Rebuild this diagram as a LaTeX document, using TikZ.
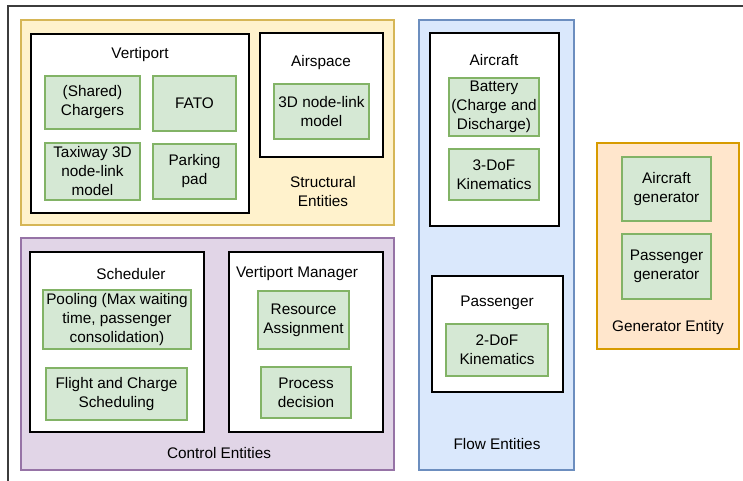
\documentclass[tikz,border=0pt]{standalone}
\usepackage{fontspec}
\setmainfont{Liberation Sans}
\usetikzlibrary{fit}

\definecolor{structfill}{RGB}{255,242,204}
\definecolor{structdraw}{RGB}{214,182,86}
\definecolor{ctrlfill}{RGB}{225,213,231}
\definecolor{ctrldraw}{RGB}{150,115,166}
\definecolor{flowfill}{RGB}{218,232,252}
\definecolor{flowdraw}{RGB}{108,142,191}
\definecolor{genfill}{RGB}{255,230,204}
\definecolor{gendraw}{RGB}{215,155,0}
\definecolor{partfill}{RGB}{213,232,212}
\definecolor{partdraw}{RGB}{130,179,102}
\definecolor{framecol}{RGB}{60,60,60}

\newcommand{\diafont}{\fontsize{11.5}{14.25}\selectfont}

\tikzset{every picture/.style={line width=0.75pt}}
\tikzset{
	group/.style={inner sep=0pt, line width=0.8pt},
	entity/.style={draw=black, fill=white, inner sep=0pt, line width=1.1pt},
	part/.style={draw=partdraw, fill=partfill, inner sep=0pt, line width=1.1pt, align=center, font=\diafont},
	title/.style={inner sep=0pt, align=center, font=\diafont}
}

\begin{document}
\begin{tikzpicture}[x=0.75pt,y=0.75pt,yscale=-1,xscale=1]
	\useasboundingbox (0,0) rectangle (743,481);

	%Frame
	\draw [framecol, line width=1.1pt] (8,481) -- (8,6) -- (743,6) ;

	%Groups
	\node [group, draw=structdraw, fill=structfill, fit={(21,20) (394,225)}] (structural) {};
	\node [group, draw=ctrldraw, fill=ctrlfill, fit={(21,238) (394,470)}] (control) {};
	\node [group, draw=flowdraw, fill=flowfill, fit={(419,20) (574,470)}] (flow) {};
	\node [group, draw=gendraw, fill=genfill, fit={(597,143) (739,349)}] (generator) {};

	%Entities
	\node [entity, fit={(31,34) (249,213)}] (vertiport) {};
	\node [entity, fit={(260,33) (383,157)}] (airspace) {};
	\node [entity, fit={(30,252) (204,432)}] (scheduler) {};
	\node [entity, fit={(229,252) (383,432)}] (vpmanager) {};
	\node [entity, fit={(430,33) (559,226)}] (aircraft) {};
	\node [entity, fit={(432,276) (563,392)}] (passenger) {};

	%Parts
	\node [part, minimum width=71.25pt, minimum height=39.75pt] (chargers) at (92.5,102.5) {(Shared)\\Chargers};
	\node [part, minimum width=62.25pt, minimum height=41.25pt] (fato) at (194.5,103.5) {FATO};
	\node [part, minimum width=71.25pt, minimum height=42.75pt] (taxiway) at (92.5,171.5) {Taxiway 3D\\node-link\\model};
	\node [part, minimum width=62.25pt, minimum height=41.25pt] (parking) at (194.5,171.5) {Parking\\pad};
	\node [part, minimum width=71.25pt, minimum height=41.25pt] (airlink) at (321.5,111.5) {3D node-link\\model};
	\node [part, minimum width=111pt, minimum height=44.25pt] (pooling) at (117,319.5) {Pooling (Max waiting\\time, passenger\\consolidation)};
	\node [part, minimum width=105.75pt, minimum height=39pt] (flightsched) at (116.5,394) {Flight and Charge\\Scheduling};
	\node [part, minimum width=68.25pt, minimum height=43.5pt] (resource) at (303.5,320) {Resource\\Assignment};
	\node [part, minimum width=67.5pt, minimum height=38.25pt] (process) at (306,392.5) {Process\\decision};
	\node [part, minimum width=67.5pt, minimum height=43.5pt] (battery) at (494,107) {Battery\\(Charge and\\Discharge)};
	\node [part, minimum width=67.5pt, minimum height=38.25pt] (kinthree) at (494,174.5) {3-DoF\\Kinematics};
	\node [part, minimum width=76.5pt, minimum height=39pt] (kintwo) at (497,350) {2-DoF\\Kinematics};
	\node [part, minimum width=66.75pt, minimum height=48pt] (acgen) at (666.5,189) {Aircraft\\generator};
	\node [part, minimum width=66.75pt, minimum height=48.75pt] (paxgen) at (666.5,266.5) {Passenger\\generator};

	%Labels
	\node [title] (vertiportlabel) at (140,55) {Vertiport};
	\node [title] (airspacelabel) at (321,63) {Airspace};
	\node [title] (structurallabel) at (323,192) {Structural\\Entities};
	\node [title] (schedulerlabel) at (131,274) {Scheduler};
	\node [title] (vpmanagerlabel) at (297,274) {Vertiport Manager};
	\node [title] (controllabel) at (219,453) {Control Entities};
	\node [title] (aircraftlabel) at (494,60) {Aircraft};
	\node [title] (passengerlabel) at (497,303) {Passenger};
	\node [title] (flowlabel) at (497,444) {Flow Entities};
	\node [title] (generatorlabel) at (668,328) {Generator Entity};

\end{tikzpicture}
\end{document}
